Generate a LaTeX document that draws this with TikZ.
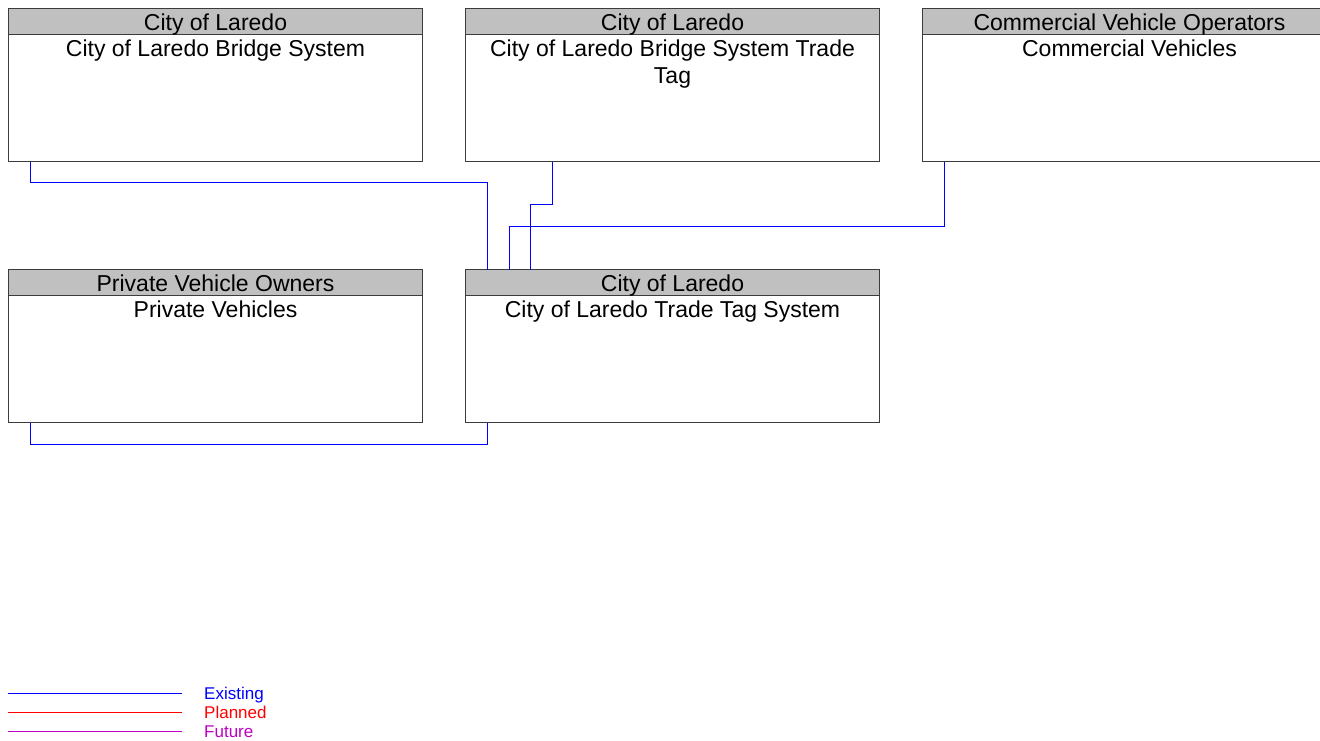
\documentclass[tikz,border=0pt]{standalone}
\usepackage{fontspec}
\setmainfont{Liberation Sans}
\usetikzlibrary{positioning,calc}
\definecolor{existing}{RGB}{0,0,255}
\definecolor{planned}{RGB}{255,0,0}
\definecolor{futur}{RGB}{192,0,192}
\definecolor{entete}{RGB}{192,192,192}
\definecolor{bord}{RGB}{60,60,60}
\tikzset{
  boite/.style={rectangle, draw=bord, line width=1pt, fill=white,
                minimum width=414pt, minimum height=153pt, inner sep=0pt, outer sep=0pt},
  bandeau/.style={rectangle, draw=bord, line width=1pt, fill=entete, anchor=north,
                  minimum width=414pt, minimum height=26pt, inner sep=0pt, outer sep=0pt,
                  text height=22pt, text depth=4pt, font=\fontsize{23}{26.7}\selectfont},
  corps/.style={text width=392pt, align=flush center, inner xsep=0pt, inner ysep=5.5pt,
                font=\fontsize{23}{26.7}\selectfont},
  lien/.style={draw=existing, line width=1pt},
  legende/.style={anchor=base west, inner sep=0pt, font=\fontsize{17}{19}\selectfont},
  trait/.style={draw=#1, line width=1.5pt},
}
\begin{document}
\begin{tikzpicture}[x=1pt, y=-1pt, node distance=108pt and 43pt]
    \useasboundingbox (0,0) rectangle (1320,740);
    % boxes
    \node[boite, anchor=north west] (bridge) at (8.5,8.5) {};
    \node[boite, right=of bridge] (tag) {};
    \node[boite, right=of tag] (cvo) {};
    \node[boite, below=of bridge] (priv) {};
    \node[boite, below=of tag] (tts) {};
    % headers and names
    \node[bandeau] (bridgeH) at (bridge.north) {City of Laredo};
    \node[corps, below=0pt of bridgeH] (bridgeT) {City of Laredo Bridge System};
    \node[bandeau] (tagH) at (tag.north) {City of Laredo};
    \node[corps, below=0pt of tagH] (tagT) {City of Laredo Bridge System Trade Tag};
    \node[bandeau] (cvoH) at (cvo.north) {Commercial Vehicle Operators};
    \node[corps, below=0pt of cvoH] (cvoT) {Commercial Vehicles};
    \node[bandeau] (privH) at (priv.north) {Private Vehicle Owners};
    \node[corps, below=0pt of privH] (privT) {Private Vehicles};
    \node[bandeau] (ttsH) at (tts.north) {City of Laredo};
    \node[corps, below=0pt of ttsH] (ttsT) {City of Laredo Trade Tag System};
    % flows
    \draw[lien] ([xshift=22pt]bridge.south west) -- ++(0,21) -| ([xshift=22pt]tts.north west);
    \draw[lien] ([xshift=87pt]tag.south west) -- ++(0,43) -| ([xshift=65pt]tts.north west);
    \draw[lien] ([xshift=22pt]cvo.south west) -- ++(0,65) -| ([xshift=44pt]tts.north west);
    \draw[lien] ([xshift=22pt]priv.south west) -- ++(0,22) -| ([xshift=22pt]tts.south west);
    % legend
    \node[legende, text=existing] (lgE) at (204,699) {Existing};
    \node[legende, text=planned] (lgP) at (204,718) {Planned};
    \node[legende, text=futur] (lgF) at (204,737) {Future};
    \coordinate (lgE0) at (8,693.5);
    \coordinate (lgP0) at (8,712.5);
    \coordinate (lgF0) at (8,731.5);
    \draw[trait=existing] (lgE0) -- ([xshift=-22pt]lgE.west |- lgE0);
    \draw[trait=planned] (lgP0) -- ([xshift=-22pt]lgP.west |- lgP0);
    \draw[trait=futur] (lgF0) -- ([xshift=-22pt]lgF.west |- lgF0);
  \end{tikzpicture}
\end{document}
